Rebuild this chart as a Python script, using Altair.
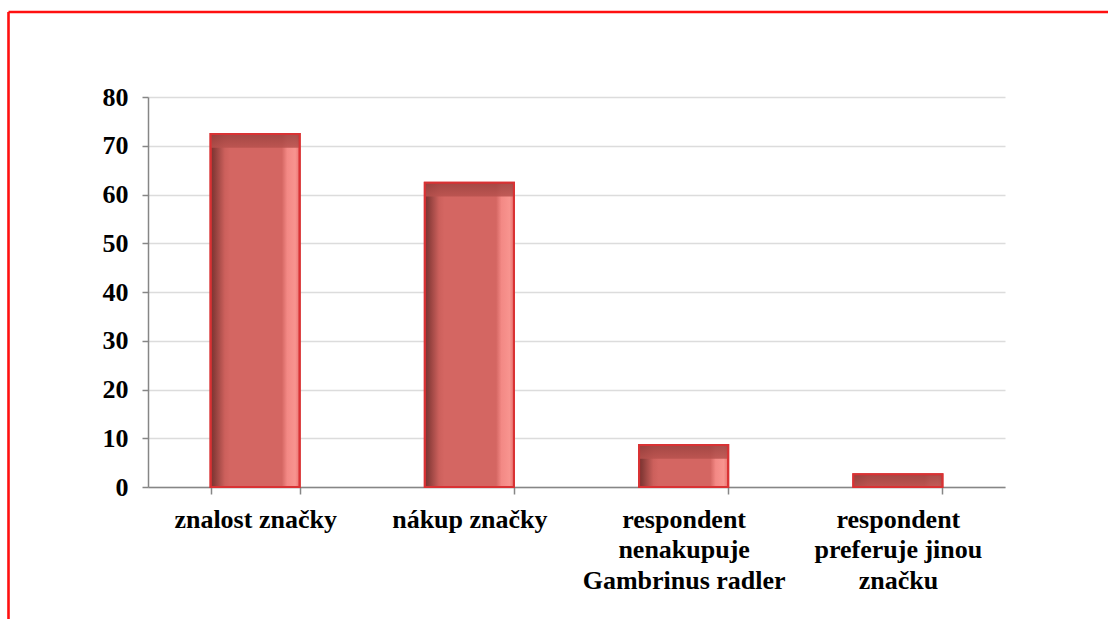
import altair as alt
import pandas as pd

categories = [
    "znalost značky",
    "nákup značky",
    "respondent|nenakupuje|Gambrinus radler",
    "respondent|preferuje jinou|značku",
]
values = [72.4, 62.4, 8.6, 2.6]
y_ticks = [0, 10, 20, 30, 40, 50, 60, 70, 80]

df = pd.DataFrame({"cat": categories, "val": values})

FONT = "Liberation Serif"
AXIS_GRAY = "#868686"

x_enc = alt.X(
    "cat:N",
    sort=categories,
    scale=alt.Scale(paddingInner=0.584, paddingOuter=0.292),
    axis=alt.Axis(
        title=None,
        labelAngle=0,
        labelExpr="split(datum.label, '|')",
        labelFont=FONT,
        labelFontSize=26,
        labelFontWeight="bold",
        labelColor="black",
        labelLineHeight=30.5,
        labelPadding=12,
        labelLimit=400,
        tickBand="extent",
        tickSize=7,
        tickColor=AXIS_GRAY,
        tickWidth=1.5,
        domainColor=AXIS_GRAY,
        domainWidth=1.5,
        grid=False,
    ),
)

y_scale = alt.Scale(domain=[0, 80], nice=False)
y_axis = alt.Axis(
    title=None,
    values=y_ticks,
    labelFont=FONT,
    labelFontSize=26,
    labelFontWeight="bold",
    labelColor="black",
    labelPadding=14,
    tickSize=6,
    tickColor=AXIS_GRAY,
    tickWidth=1.5,
    domainColor=AXIS_GRAY,
    domainWidth=1.5,
    gridColor="#DCDCDC",
    gridWidth=1.5,
)

body_gradient = alt.Gradient(
    gradient="linear",
    x1=0, x2=1, y1=0, y2=0,
    stops=[
        alt.GradientStop(offset=0.0, color="#7a3230"),
        alt.GradientStop(offset=0.04, color="#8a3c39"),
        alt.GradientStop(offset=0.16, color="#cc605c"),
        alt.GradientStop(offset=0.22, color="#d46662"),
        alt.GradientStop(offset=0.80, color="#d46662"),
        alt.GradientStop(offset=0.86, color="#f38985"),
        alt.GradientStop(offset=0.95, color="#f8948f"),
        alt.GradientStop(offset=1.0, color="#e87370"),
    ],
)

top_gradient = alt.Gradient(
    gradient="linear",
    x1=0, x2=0, y1=0, y2=1,
    stops=[
        alt.GradientStop(offset=0.0, color="#9c423f"),
        alt.GradientStop(offset=1.0, color="#b8524e"),
    ],
)

base = alt.Chart(df)

bars = base.mark_bar(
    fill=body_gradient, stroke="#d93234", strokeWidth=2
).encode(
    x=x_enc,
    y=alt.Y("val:Q", scale=y_scale, axis=y_axis),
)

tops = base.transform_calculate(
    low="max(datum.val - 2.8, 0)"
).mark_bar(fill=top_gradient, opacity=0.85).encode(
    x=alt.X("cat:N", sort=categories),
    y=alt.Y("val:Q"),
    y2=alt.Y2("low:Q"),
)

outline = base.mark_bar(
    fill=None, stroke="#d93234", strokeWidth=2
).encode(
    x=alt.X("cat:N", sort=categories),
    y=alt.Y("val:Q"),
)

frame_data = alt.Data(values=[{"k": 0}])
frame_top = alt.Chart(frame_data).mark_rule(color="#ff1010", strokeWidth=2.6).encode(
    x=alt.value(-139.5), x2=alt.value(970), y=alt.value(-85)
)
frame_left = alt.Chart(frame_data).mark_rule(color="#ff1010", strokeWidth=2.6).encode(
    x=alt.value(-139.5), y=alt.value(-85), y2=alt.value(540)
)

chart = alt.layer(bars, tops, outline, frame_top, frame_left).properties(
    width=857,
    height=390,
    autosize=alt.AutoSizeParams(type="none"),
    padding={"left": 148, "top": 97, "right": 103, "bottom": 132},
    background="white",
).configure_view(stroke=None)

chart.save("out.html", embed_options={"renderer": "svg", "actions": False})
